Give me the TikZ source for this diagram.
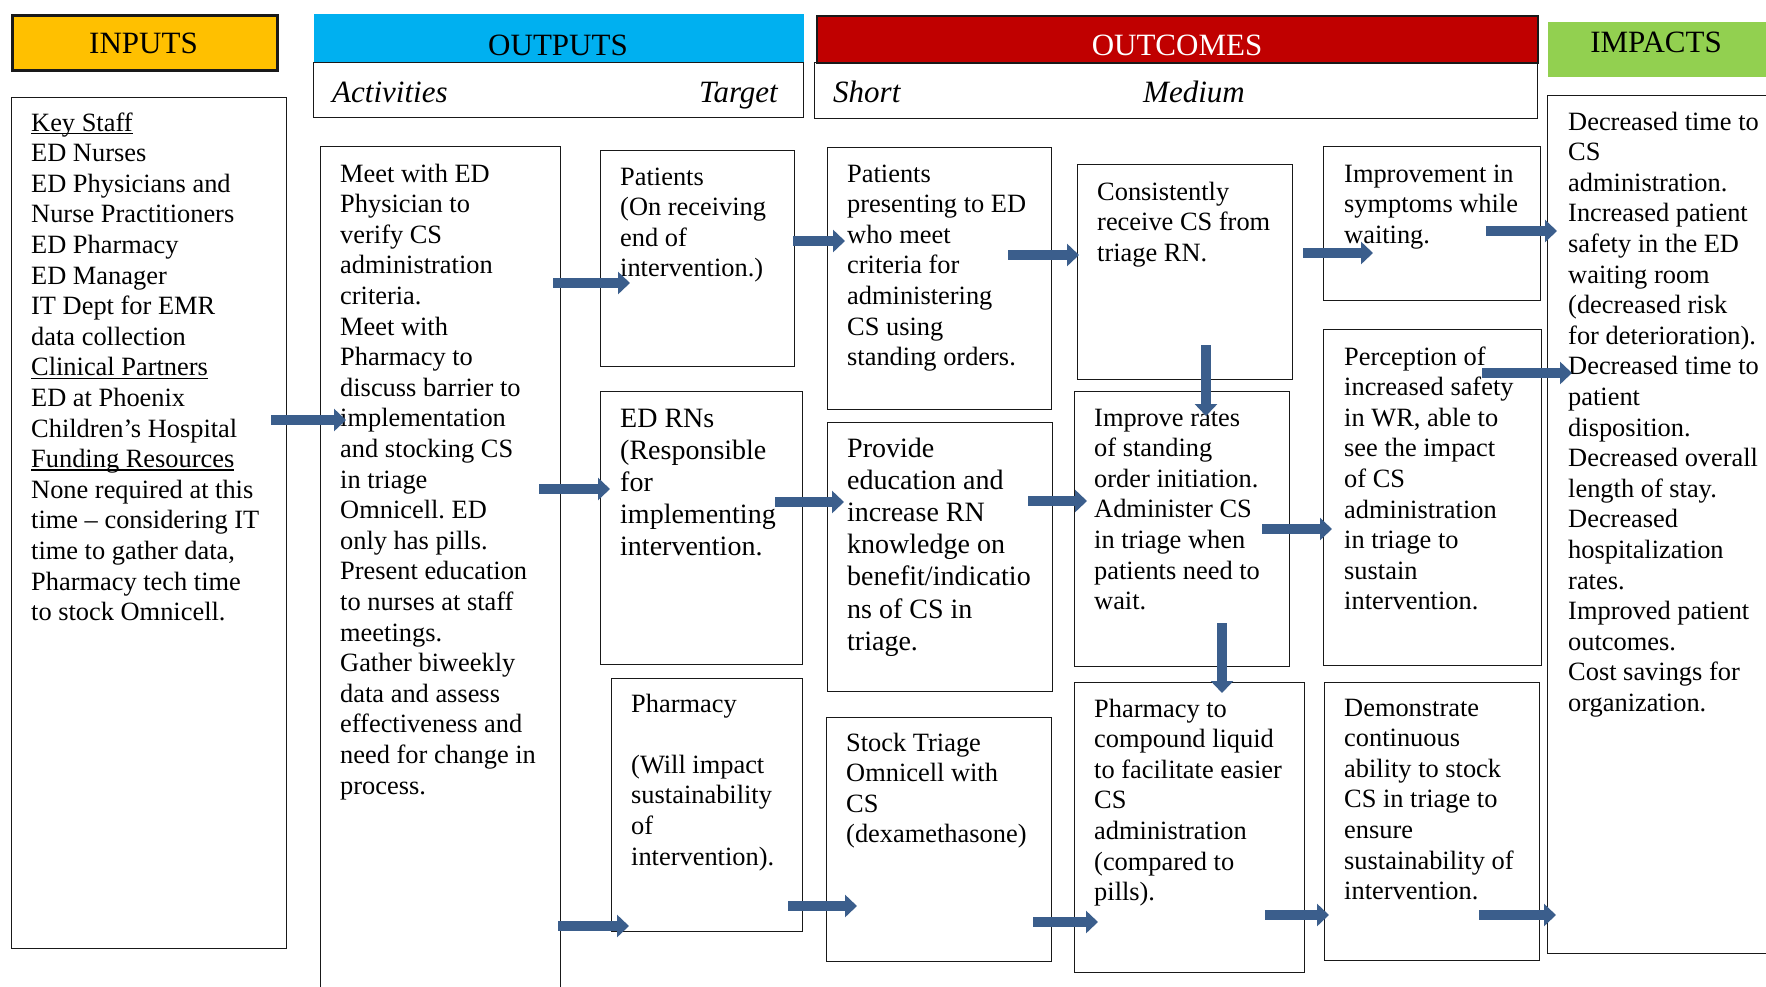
\documentclass[tikz,border=0pt]{standalone}
\usepackage{fontspec}
\setmainfont{Liberation Serif}
\usetikzlibrary{arrows.meta}
\definecolor{inputgold}{HTML}{FFC000}
\definecolor{outputblue}{HTML}{00B0F0}
\definecolor{outcomered}{HTML}{C00000}
\definecolor{impactgreen}{HTML}{92D050}
\definecolor{flowblue}{RGB}{59,94,140}
\newcommand{\ulbox}[1]{\setbox0=\hbox{#1}\rlap{\rule[-3pt]{\wd0}{1.2pt}}\box0}
\frenchspacing

\begin{document}
\begin{tikzpicture}[x=1pt, y=-1pt,
  box/.style={draw=black!90, line width=1.3pt, anchor=north west, inner sep=0pt},
  txt/.style={anchor=base west, align=left, inner sep=0pt, font=\fontsize{26.4}{30.6}\selectfont},
  bigtxt/.style={txt, font=\fontsize{28}{32.2}\selectfont},
  head/.style={anchor=base, inner sep=0pt, font=\fontsize{31}{36}\selectfont},
  sub/.style={anchor=base west, inner sep=0pt, font=\fontsize{31}{36}\selectfont\itshape},
  flow/.style={draw=flowblue, line width=10pt, -{Triangle[width=22pt,length=12pt]}}]

\useasboundingbox (0,0) rectangle (1766,986);
\clip (0,0) rectangle (1766,986);

% header bars
\node[box, fill=inputgold, line width=2.5pt, minimum width=265pt, minimum height=55pt] (inhd) at (11,14) {};
\node[head] (inhd-t) at (143.5,53) {INPUTS};

\node[box, draw=none, fill=outputblue, minimum width=490pt, minimum height=49pt] (outhd) at (313,13) {};
\node[head] (outhd-t) at (558,55) {OUTPUTS};
\node[box, minimum width=490pt, minimum height=55pt] (outsub) at (313,62) {};
\node[sub] (act-h) at (332,102) {Activities};
\node[sub, anchor=base east] (tgt-h) at (778,102) {Target};

\node[box, fill=outcomered, line width=2pt, minimum width=721pt, minimum height=47pt] (ochd) at (816,15) {};
\node[head, text=white] (ochd-t) at (1177,55) {OUTCOMES};
\node[box, minimum width=723pt, minimum height=56pt] (ocsub) at (814,62) {};
\node[sub] (short-h) at (833,102) {Short};
\node[sub] (med-h) at (1143,102) {Medium};

\node[box, draw=none, fill=impactgreen, minimum width=230pt, minimum height=55pt] (imhd) at (1547,21) {};
\node[head] (imhd-t) at (1656,52) {IMPACTS};

% inputs (text nodes sit on their last baseline)
\node[box, minimum width=275pt, minimum height=851pt] (inp) at (11,97) {};
\node[txt] (inp-t) at (31,620.6) {\ulbox{Key Staff}\\ED Nurses\\ED Physicians and\\Nurse Practitioners\\ED Pharmacy\\ED Manager\\IT Dept for EMR\\data collection\\\ulbox{Clinical Partners}\\ED at Phoenix\\Children’s Hospital\\\ulbox{Funding Resources}\\None required at this\\time – considering IT\\time to gather data,\\Pharmacy tech time\\to stock Omnicell.};

% activities
\node[box, minimum width=240pt, minimum height=854pt] (act) at (320,146) {};
\node[txt] (act-t) at (340,794) {Meet with ED\\Physician to\\verify CS\\administration\\criteria.\\Meet with\\Pharmacy to\\discuss barrier to\\implementation\\and stocking CS\\in triage\\Omnicell. ED\\only has pills.\\Present education\\to nurses at staff\\meetings.\\Gather biweekly\\data and assess\\effectiveness and\\need for change in\\process.};

% target
\node[box, minimum width=194pt, minimum height=216pt] (pat) at (600,150) {};
\node[txt] (pat-t) at (620,276.8) {Patients\\(On receiving\\end of\\intervention.)};
\node[box, minimum width=202pt, minimum height=273pt] (rns) at (600,391) {};
\node[bigtxt] (rns-t) at (620,555.8) {ED RNs\\(Responsible\\for\\implementing\\intervention.};
\node[box, minimum width=191pt, minimum height=253pt] (pha) at (611,678) {};
\node[txt] (pha-t) at (631,865) {Pharmacy\\[30.6pt](Will impact\\sustainability\\of\\intervention).};

% short
\node[box, minimum width=224pt, minimum height=262pt] (pres) at (827,147) {};
\node[txt] (pres-t) at (847,365.6) {Patients\\presenting to ED\\who meet\\criteria for\\administering\\CS using\\standing orders.};
\node[box, minimum width=225pt, minimum height=269pt] (prov) at (827,422) {};
\node[bigtxt] (prov-t) at (847,650.2) {Provide\\education and\\increase RN\\knowledge on\\benefit/indicatio\\ns of CS in\\triage.};
\node[box, minimum width=225pt, minimum height=244pt] (stock) at (826,717) {};
\node[txt] (stock-t) at (846,842.8) {Stock Triage\\Omnicell with\\CS\\(dexamethasone)};

% medium
\node[box, minimum width=215pt, minimum height=215pt] (cons) at (1077,164) {};
\node[txt] (cons-t) at (1097,261.2) {Consistently\\receive CS from\\triage RN.};
\node[box, minimum width=215pt, minimum height=275pt] (imp) at (1074,391) {};
\node[txt] (imp-t) at (1094,609.6) {Improve rates\\of standing\\order initiation.\\Administer CS\\in triage when\\patients need to\\wait.};
\node[box, minimum width=230pt, minimum height=290pt] (comp) at (1074,682) {};
\node[txt] (comp-t) at (1094,900.6) {Pharmacy to\\compound liquid\\to facilitate easier\\CS\\administration\\(compared to\\pills).};

\node[box, minimum width=217pt, minimum height=154pt] (impr) at (1323,146) {};
\node[txt] (impr-t) at (1344,243.2) {Improvement in\\symptoms while\\waiting.};
\node[box, minimum width=218pt, minimum height=336pt] (perc) at (1323,329) {};
\node[txt] (perc-t) at (1344,609.8) {Perception of\\increased safety\\in WR, able to\\see the impact\\of CS\\administration\\in triage to\\sustain\\intervention.};
\node[box, minimum width=215pt, minimum height=278pt] (dem) at (1324,682) {};
\node[txt] (dem-t) at (1344,899.6) {Demonstrate\\continuous\\ability to stock\\CS in triage to\\ensure\\sustainability of\\intervention.};

% impacts
\node[box, minimum width=253pt, minimum height=858pt] (imps) at (1547,95) {};
\node[txt] (imps-t) at (1568,711.4) {Decreased time to\\CS\\administration.\\Increased patient\\safety in the ED\\waiting room\\(decreased risk\\for deterioration).\\Decreased time to\\patient\\disposition.\\Decreased overall\\length of stay.\\Decreased\\hospitalization\\rates.\\Improved patient\\outcomes.\\Cost savings for\\organization.};

% arrows
\draw[flow] ([xshift=-16pt,yshift=-323pt]inp.north east) coordinate (f1) -- ([xshift=26pt]act.west |- f1);
\draw[flow] ([xshift=-8pt,yshift=-137pt]act.north east) coordinate (f2) -- ([xshift=30pt]pat.west |- f2);
\draw[flow] ([xshift=-22pt,yshift=-343pt]act.north east) coordinate (f3) -- ([xshift=10pt]rns.west |- f3);
\draw[flow] ([xshift=-3pt,yshift=-780pt]act.north east) coordinate (f4) -- ([xshift=18pt]pha.west |- f4);
\draw[flow] ([xshift=-2pt,yshift=-91pt]pat.north east) coordinate (f5) -- ([xshift=18pt]pres.west |- f5);
\draw[flow] ([xshift=-28pt,yshift=-111pt]rns.north east) coordinate (f6) -- ([xshift=17pt]prov.west |- f6);
\draw[flow] ([xshift=-15pt,yshift=-228pt]pha.north east) coordinate (f7) -- ([xshift=31pt]stock.west |- f7);
\draw[flow] ([xshift=-44pt,yshift=-108pt]pres.north east) coordinate (f8) -- ([xshift=2pt]cons.west |- f8);
\draw[flow] ([xshift=-25pt,yshift=-79pt]prov.north east) coordinate (f9) -- ([xshift=13pt]imp.west |- f9);
\draw[flow] ([xshift=-19pt,yshift=-205pt]stock.north east) coordinate (f10) -- ([xshift=24pt]comp.west |- f10);
\draw[flow] ([xshift=129pt,yshift=35pt]cons.south west) coordinate (f11) -- ([yshift=-25pt]imp.north -| f11);
\draw[flow] ([xshift=148pt,yshift=44pt]imp.south west) coordinate (f12) -- ([yshift=-11pt]comp.north -| f12);
\draw[flow] ([xshift=10pt,yshift=-89pt]cons.north east) coordinate (f13) -- ([xshift=50pt]impr.west |- f13);
\draw[flow] ([xshift=-28pt,yshift=-138pt]imp.north east) coordinate (f14) -- ([xshift=9pt]perc.west |- f14);
\draw[flow] ([xshift=-40pt,yshift=-233pt]comp.north east) coordinate (f15) -- ([xshift=5pt]dem.west |- f15);
\draw[flow] ([xshift=-55pt,yshift=-85pt]impr.north east) coordinate (f16) -- ([xshift=10pt]imps.west |- f16);
\draw[flow] ([xshift=-60pt,yshift=-44pt]perc.north east) coordinate (f17) -- ([xshift=25pt]imps.west |- f17);
\draw[flow] ([xshift=-61pt,yshift=-233pt]dem.north east) coordinate (f18) -- ([xshift=9pt]imps.west |- f18);

\end{tikzpicture}
\end{document}
